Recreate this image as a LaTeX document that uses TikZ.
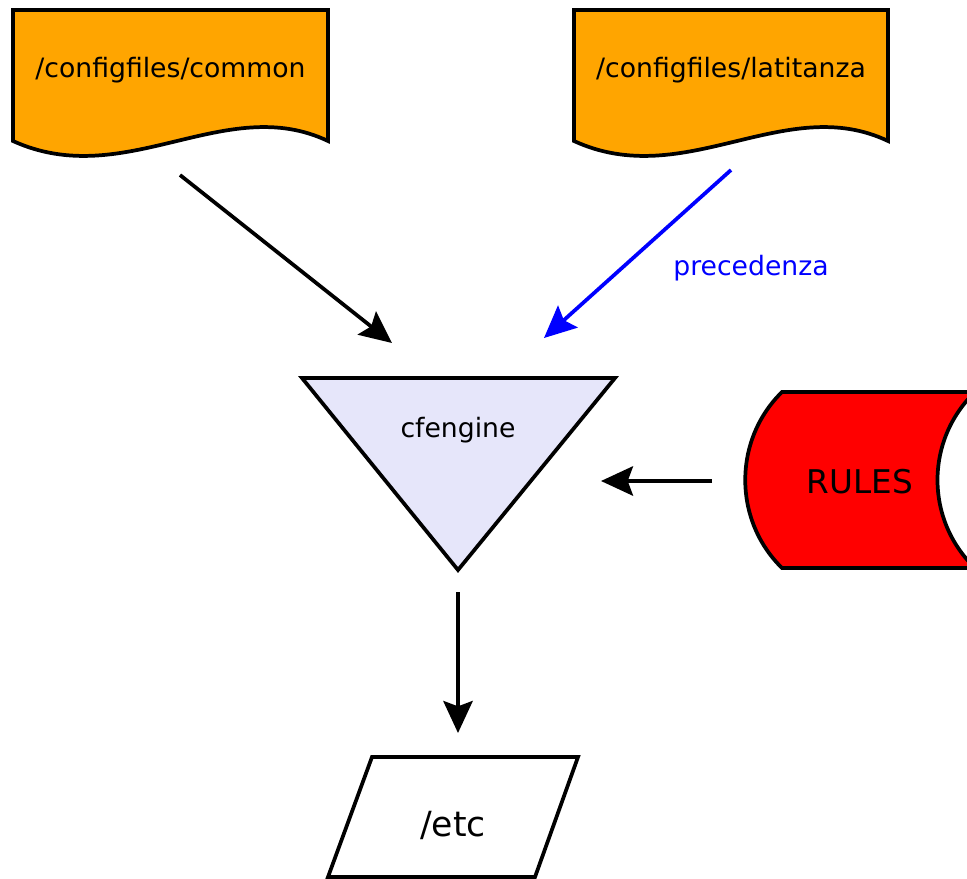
\documentclass[tikz,border=0pt]{standalone}
\usepackage{fontspec}
\setmainfont{DejaVu Sans}
\usetikzlibrary{arrows.meta}
\definecolor{docorange}{HTML}{FFA500}
\definecolor{lav}{HTML}{E6E6FA}
\definecolor{rulered}{HTML}{FF0000}
\definecolor{precblue}{HTML}{0000FF}
\tikzset{
  outline/.style={draw=black, line width=2.8pt, line join=miter},
  conn/.style={line width=2.8pt, -{Stealth[length=24pt, width=22pt, inset=4pt]}},
  lbl/.style={font=\fontsize{20}{24}\selectfont, inner sep=0pt}
}
\begin{document}
\begin{tikzpicture}[x=0.75pt, y=-0.75pt]
\useasboundingbox (0,0) rectangle (967,878);
\begin{scope}
\clip (0,0) rectangle (967,878);
% document 1
\path[outline, fill=docorange] (13,10) -- (328,10) -- (328,141)
  .. controls (225,92) and (125,192) .. (13,141) -- cycle;
\node[lbl] (common) at (170.5,70) {/configfiles/common};
% document 2
\path[outline, fill=docorange] (574,10) -- (888,10) -- (888,141)
  .. controls (785,92) and (685,192) .. (574,141) -- cycle;
\node[lbl] (latitanza) at (731,70) {/configfiles/latitanza};
% triangle
\path[outline, fill=lav] (302,378) -- (615,378) -- (458,570) -- cycle;
\node[lbl] (cf) at (458,430) {cfengine};
% rules (stored data)
\path[outline, fill=rulered] (782,392) -- (975,392)
  .. controls (925,440) and (925,520) .. (975,568) -- (782,568)
  .. controls (733,520) and (733,440) .. (782,392) -- cycle;
\node[lbl, font=\fontsize{24.5}{28}\selectfont] (rules) at (860,482) {RULES};
% /etc parallelogram
\path[outline, fill=white] (372,757) -- (578,757) -- (535,877) -- (328,877) -- cycle;
\node[lbl, font=\fontsize{26}{30}\selectfont] (etc) at (453,825) {/etc};
% precedenza label
\node[lbl, text=precblue] (prec) at (751,268) {precedenza};
\end{scope}
% connector ends
\coordinate (a1s) at (180,175);
\coordinate (a1e) at (392,343);
\coordinate (a2s) at (731,170);
\coordinate (a2e) at (544,338);
\coordinate (a3s) at (712,481);
\coordinate (a3e) at (601,481);
\coordinate (a4s) at (458,592);
\coordinate (a4e) at (458,733);
\draw[conn] (a1s) -- (a1e);
\draw[conn, draw=precblue, fill=precblue] (a2s) -- (a2e);
\draw[conn] (a3s) -- (a3e);
\draw[conn] (a4s) -- (a4e);
\end{tikzpicture}
\end{document}
